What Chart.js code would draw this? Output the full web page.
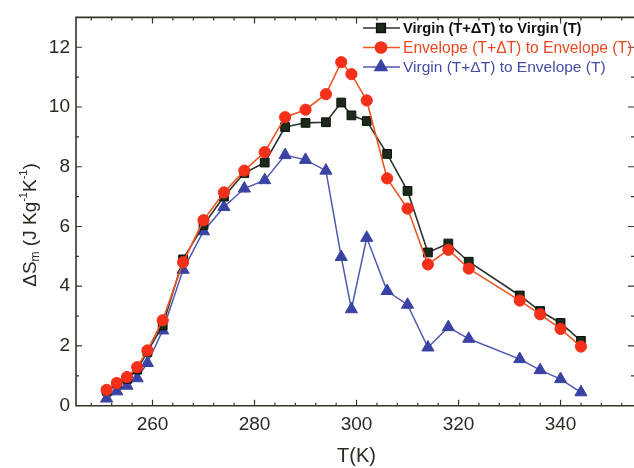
<!DOCTYPE html>
<html>
<head>
<meta charset="utf-8">
<script src="https://cdn.jsdelivr.net/npm/chart.js@4/dist/chart.umd.min.js"></script>
<style>
  html, body { margin: 0; padding: 0; background: #fff; overflow: hidden; }
  #c { display: block; width: 634px; height: 468px; }
</style>
</head>
<body>
<canvas id="c" width="634" height="468"></canvas>
<script>
// ---- data ----
const temps = [251,253,255,257,259,262,266,270,274,278,282,286,290,294,297,299,302,306,310,314,318,322,332,336,340,344];
const virginVirgin = [0.50,0.74,0.90,1.21,1.80,2.69,4.90,6.05,7.00,7.79,8.14,9.33,9.47,9.49,10.15,9.72,9.53,8.43,7.19,5.13,5.43,4.82,3.69,3.17,2.77,2.17];
const envelopeEnvelope = [0.53,0.76,0.96,1.29,1.85,2.86,4.80,6.21,7.14,7.87,8.49,9.66,9.91,10.43,11.50,11.10,10.22,7.61,6.60,4.73,5.22,4.59,3.52,3.06,2.57,1.98];
const virginEnvelope = [0.24,0.48,0.67,0.92,1.43,2.52,4.55,5.84,6.65,7.27,7.55,8.39,8.23,7.87,4.98,3.23,5.62,3.84,3.38,1.95,2.63,2.24,1.56,1.19,0.89,0.45];
const seriesNames = ['Virgin (T+\u0394T) to Virgin (T)', 'Envelope (T+\u0394T) to Envelope (T)', 'Virgin (T+\u0394T) to Envelope (T)'];
const xTickLabels = [260, 280, 300, 320, 340];
const yTickLabels = [0, 2, 4, 6, 8, 10, 12];
const xTitle = 'T(K)';

const FONT = '"Liberation Sans", Arial, sans-serif';
const FRAME = '#35352a';

function pts(ys) { return temps.map((t, i) => ({ x: t, y: ys[i] })); }

const legendText = ['#111111', '#ea4a22', '#454ca3'];
const legendWeight = ['bold ', '', ''];
const legendWidth = [179, 230, 202];

const decor = {
  id: 'decor',
  afterDraw(chart) {
    const ctx = chart.ctx;
    const a = chart.chartArea;
    const xs = chart.scales.x, ys = chart.scales.y;
    ctx.save();
    // frame (right side lies just beyond the picture in the reference)
    ctx.strokeStyle = FRAME;
    ctx.lineWidth = 1.6;
    ctx.beginPath();
    ctx.moveTo(a.right + 4, a.top);
    ctx.lineTo(a.left, a.top);
    ctx.lineTo(a.left, a.bottom);
    ctx.lineTo(a.right + 4, a.bottom);
    ctx.stroke();
    // ticks (inward, on all four sides)
    ctx.lineWidth = 1.2;
    for (let v = Math.ceil(xs.min / 4) * 4; v <= xs.max; v += 4) {
      const px = xs.getPixelForValue(v);
      const len = (v % 20 === 0) ? 6 : 3;
      ctx.beginPath();
      ctx.moveTo(px, a.bottom); ctx.lineTo(px, a.bottom - len);
      ctx.moveTo(px, a.top); ctx.lineTo(px, a.top + len);
      ctx.stroke();
    }
    for (let v = 1; v < ys.max; v += 1) {
      const py = ys.getPixelForValue(v);
      const len = (v % 2 === 0) ? 6 : 3;
      ctx.beginPath();
      ctx.moveTo(a.left, py); ctx.lineTo(a.left + len, py);
      ctx.moveTo(a.right, py); ctx.lineTo(a.right - len, py);
      ctx.stroke();
    }
    // x title
    ctx.fillStyle = '#2a2a22';
    ctx.font = '20px ' + FONT;
    ctx.textAlign = 'center';
    ctx.textBaseline = 'middle';
    ctx.fillText(xTitle, xs.getPixelForValue(300), 456);
    // y title with sub/superscripts
    ctx.save();
    ctx.translate(31, 225);
    ctx.rotate(-Math.PI / 2);
    const parts = [
      ['\u0394S', 19, 0], ['m', 12, 5], [' (J Kg', 19, 0], ['-1', 11, -7],
      ['K', 19, 0], ['-1', 11, -7], [')', 19, 0]
    ];
    let total = 0;
    parts.forEach(p => { ctx.font = p[1] + 'px ' + FONT; total += ctx.measureText(p[0]).width; });
    let cx = -total / 2;
    ctx.textAlign = 'left';
    parts.forEach(p => {
      ctx.font = p[1] + 'px ' + FONT;
      ctx.fillText(p[0], cx, p[2]);
      cx += ctx.measureText(p[0]).width;
    });
    ctx.restore();
    // legend
    chart.data.datasets.forEach((ds, i) => {
      const y = 28 + i * 19.5;
      ctx.strokeStyle = ds.borderColor;
      ctx.lineWidth = 1.5;
      ctx.beginPath(); ctx.moveTo(363, y); ctx.lineTo(400, y); ctx.stroke();
      ctx.fillStyle = ds.pointBackgroundColor;
      ctx.strokeStyle = ds.pointBorderColor;
      Chart.helpers.drawPoint(ctx, { pointStyle: ds.pointStyle, radius: ds.pointRadius, borderWidth: 1, rotation: 0 }, 381, y);
      ctx.font = legendWeight[i] + '15px ' + FONT;
      const w = ctx.measureText(seriesNames[i]).width;
      const size = Math.min(17, Math.max(13, 15 * legendWidth[i] / w));
      ctx.font = legendWeight[i] + size.toFixed(1) + 'px ' + FONT;
      ctx.fillStyle = legendText[i];
      ctx.textAlign = 'left';
      ctx.textBaseline = 'middle';
      ctx.fillText(seriesNames[i], 403, y + 1);
    });
    ctx.restore();
  }
};

new Chart(document.getElementById('c'), {
  type: 'line',
  data: {
    datasets: [
      {
        label: seriesNames[0], data: pts(virginVirgin), order: 1,
        borderColor: '#2e332c', borderWidth: 1.6,
        pointStyle: 'rect', pointRadius: 6.2,
        pointBackgroundColor: '#1b2a1b', pointBorderColor: '#0c120c', pointBorderWidth: 1
      },
      {
        label: seriesNames[1], data: pts(envelopeEnvelope), order: 0,
        borderColor: '#ee5520', borderWidth: 1.6,
        pointStyle: 'circle', pointRadius: 5.6,
        pointBackgroundColor: '#f4301a', pointBorderColor: '#f4301a', pointBorderWidth: 1
      },
      {
        label: seriesNames[2], data: pts(virginEnvelope), order: 2,
        borderColor: '#5058ad', borderWidth: 1.5,
        pointStyle: 'triangle', pointRadius: 7,
        pointBackgroundColor: '#3a43a3', pointBorderColor: '#3a43a3', pointBorderWidth: 1
      }
    ]
  },
  options: {
    responsive: false,
    maintainAspectRatio: false,
    devicePixelRatio: 1,
    animation: false,
    events: [],
    layout: { autoPadding: false, padding: { top: 7, right: 0, left: 0, bottom: 0 } },
    plugins: { legend: { display: false }, tooltip: { enabled: false } },
    scales: {
      x: {
        type: 'linear', min: 245, max: 354.4,
        afterBuildTicks: s => { s.ticks = xTickLabels.map(v => ({ value: v })); },
        afterFit: s => { s.height = 62.3; },
        grid: { display: false, drawTicks: false },
        border: { display: false },
        ticks: { padding: 8, color: '#2a2a22', font: { size: 19, family: FONT }, maxRotation: 0 }
      },
      y: {
        type: 'linear', min: 0, max: 13,
        afterBuildTicks: s => { s.ticks = yTickLabels.map(v => ({ value: v })); },
        afterFit: s => { s.width = 76; },
        grid: { display: false, drawTicks: false },
        border: { display: false },
        ticks: { padding: 6, color: '#2a2a22', font: { size: 19, family: FONT } }
      }
    }
  },
  plugins: [decor]
});
</script>
</body>
</html>
